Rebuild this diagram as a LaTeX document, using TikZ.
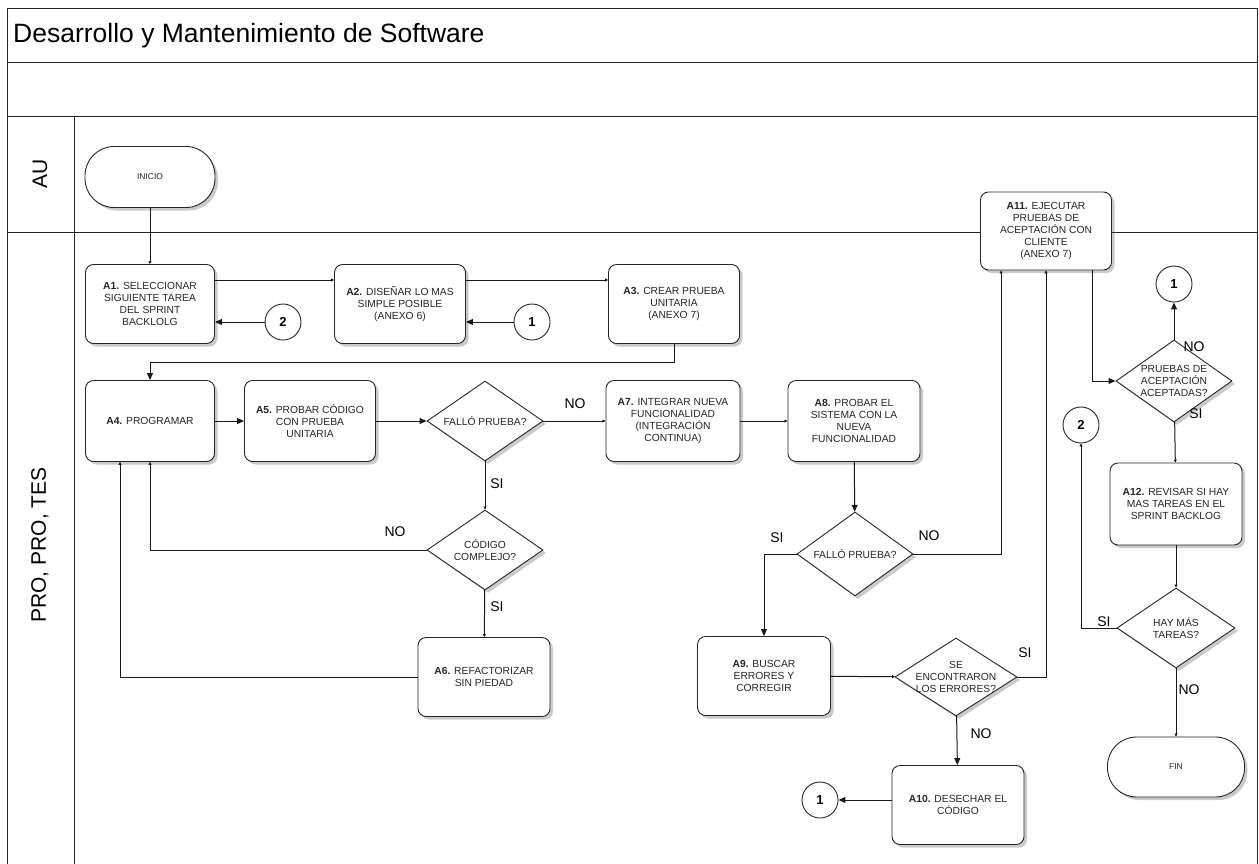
\documentclass[tikz,border=0pt]{standalone}
\usepackage{fontspec}
\setmainfont{Liberation Sans}
\usetikzlibrary{shapes.geometric,shadows,arrows.meta}

\newcommand\boxfont{\fontsize{10.3}{12}\selectfont}
\newcommand\termfont{\fontsize{8.5}{9}\selectfont}

\begin{document}
\begin{tikzpicture}[x=1pt,y=-1pt,
  frame/.style={line width=1pt, draw=black!85},
  shade/.style={drop shadow={shadow xshift=3pt, shadow yshift=-3pt, opacity=0.35, fill=black!60}},
  box/.style={draw=black!85, line width=0.9pt, rounded corners=8pt, fill=white, align=center,
    font=\boxfont, text=black!85, inner sep=2pt, minimum width=131pt, minimum height=79pt, shade},
  term/.style={draw=black!85, line width=0.9pt, rounded corners=29pt, fill=white,
    minimum width=130pt, minimum height=61pt, font=\termfont, text=black!85, shade},
  diam/.style={diamond, draw=black!85, line width=0.9pt, fill=white, inner sep=0pt, shade},
  dtext/.style={align=center, font=\boxfont, text=black!85, inner sep=0pt},
  conn/.style={circle, draw=black!85, line width=0.9pt, fill=white, minimum size=36pt,
    inner sep=0pt, font=\fontsize{13}{14}\selectfont\bfseries},
  link/.style={line width=1pt, draw=black!90},
  big/.style={link, -{Triangle[length=7pt,width=6pt]}},
  small/.style={link, -{Triangle[length=3pt,width=3pt]}},
  lbl/.style={font=\fontsize{14}{16}\selectfont, inner sep=0pt}]

\useasboundingbox (0,0) rectangle (1259,863);

% pool frame and lanes
\draw[frame] (7,866) -- (7,8) -- (1257,8) -- (1257,866);
\draw[frame] (7,62) -- (1257,62);
\draw[frame] (7,116) -- (1257,116);
\draw[frame] (7,232) -- (1257,232);
\draw[frame] (74,116) -- (74,866);

\node[anchor=west, font=\fontsize{26.5}{30}\selectfont, inner sep=0pt] (title) at (13,36)
  {Desarrollo y Mantenimiento de Software};
\node[rotate=90, font=\fontsize{21}{24}\selectfont] (laneau) at (40,174) {AU};
\node[rotate=90, font=\fontsize{21}{24}\selectfont] (lanepro) at (40,545) {PRO, PRO, TES};

% activities
\node[term] (inicio) at (150,177) {INICIO};
\node[box, minimum width=129pt] (a1) at (150,304) {\textbf{A1.} SELECCIONAR\\SIGUIENTE TAREA\\DEL SPRINT\\BACKLOLG};
\node[conn] (c2a) at (283,322) {2};
\node[box] (a2) at (400,304) {\textbf{A2.} DISEÑAR LO MAS\\SIMPLE POSIBLE\\(ANEXO 6)};
\node[conn] (c1a) at (532,322) {1};
\node[box] (a3) at (674,304) {\textbf{A3.} CREAR PRUEBA\\UNITARIA\\(ANEXO 7)};

\node[box, minimum width=129pt, minimum height=81pt] (a4) at (150,421) {\textbf{A4.} PROGRAMAR};
\node[box, minimum height=81pt] (a5) at (310,421) {\textbf{A5.} PROBAR CÓDIGO\\CON PRUEBA\\UNITARIA};
\node[diam, minimum width=116pt, minimum height=80pt] (d1) at (485,421) {};
\node[dtext] (d1t) at (d1) {FALLÓ PRUEBA?};
\node[box, minimum width=134pt, minimum height=81pt] (a7) at (673,421) {\textbf{A7.} INTEGRAR NUEVA\\FUNCIONALIDAD\\(INTEGRACIÓN\\CONTINUA)};
\node[box, minimum width=132pt, minimum height=81pt] (a8) at (854,421) {\textbf{A8.} PROBAR EL\\SISTEMA CON LA\\NUEVA\\FUNCIONALIDAD};

\node[diam, minimum width=116pt, minimum height=80pt] (d2) at (485,550) {};
\node[dtext] (d2t) at (d2) {CÓDIGO\\COMPLEJO?};
\node[box, minimum width=132pt] (a6) at (484,677) {\textbf{A6.} REFACTORIZAR\\SIN PIEDAD};

\node[diam, minimum width=116pt, minimum height=84pt] (d3) at (855,554) {};
\node[dtext] (d3t) at (d3) {FALLÓ PRUEBA?};
\node[box, minimum width=133pt] (a9) at (764,676) {\textbf{A9.} BUSCAR\\ERRORES Y\\CORREGIR};
\node[diam, minimum width=122pt, minimum height=78pt] (d4) at (956,677) {};
\node[dtext] (d4t) at (d4) {SE\\ENCONTRARON\\LOS ERRORES?};
\node[box, minimum width=132pt] (a10) at (958,805) {\textbf{A10.} DESECHAR EL\\CÓDIGO};
\node[conn] (c1b) at (820,800) {1};

\node[box, minimum width=131pt, minimum height=78pt] (a11) at (1046,231) {\textbf{A11.} EJECUTAR\\PRUEBAS DE\\ACEPTACIÓN CON\\CLIENTE\\(ANEXO 7)};
\node[conn] (c1c) at (1174,284) {1};
\node[diam, minimum width=116pt, minimum height=82pt] (d5) at (1174,381) {};
\node[dtext] (d5t) at (d5) {PRUEBAS DE\\ACEPTACIÓN\\ACEPTADAS?};
\node[conn] (c2b) at (1081,425) {2};
\node[box, minimum width=132pt, minimum height=82pt] (a12) at (1176,504) {\textbf{A12.} REVISAR SI HAY\\MAS TAREAS EN EL\\SPRINT BACKLOG};
\node[diam, minimum width=118pt, minimum height=80pt] (d6) at (1176,628) {};
\node[dtext] (d6t) at (d6) {HAY MÁS\\TAREAS?};
\node[term, minimum width=137pt, minimum height=60pt] (fin) at (1176,767) {FIN};

% flow
\draw[small] (inicio.south) -- (a1.north);
\draw[small] (a1.east |- 0,280) -- (a2.west |- 0,280);
\draw[big] (c2a) -- (a1.east |- c2a);
\draw[small] (a2.east |- 0,280) -- (a3.west |- 0,280);
\draw[big] (c1a) -- (a2.east |- c1a);
\draw[big] (a3.south) -- ++(0,19) -| (a4.north);
\draw[big] (a4) -- (a5);
\draw[big] (a5) -- (d1);
\draw[small] (d1) -- (a7);
\draw[small] (a7) -- (a8);
\draw[small] (d1) -- (d2);
\draw[small] (d2.west) -| (a4.south);
\draw[small] (d2) -- (a6);
\draw[small] (a6.west) -| ([xshift=-30pt]a4.south);
\draw[big] (a8) -- (d3);
\draw[big] (d3.west) -| (a9.north);
\draw[small] (d3.east) -| ([xshift=-45pt]a11.south);
\draw[small] (a9) -- (d4);
\draw[small] (d4.east) -| (a11.south);
\draw[big] (d4) -- (a10);
\draw[big] (a10.west |- c1b) -- (c1b);
\draw[big] ([xshift=46pt]a11.south) |- (d5.west);
\draw[big] (d5.north) -- (c1c);
\draw[small] (d5) -- (a12);
\draw[small] (a12) -- (d6);
\draw[small] (d6.west) -| (c2b.south);
\draw[small] (d6) -- (fin);

% branch labels
\node[lbl] (no1) at (575,404) {NO};
\node[lbl] (si1) at (497,484) {SI};
\node[lbl] (no2) at (395,532) {NO};
\node[lbl] (si2) at (497,607) {SI};
\node[lbl] (si3) at (777,538) {SI};
\node[lbl] (no3) at (929,536) {NO};
\node[lbl] (si4) at (1025,653) {SI};
\node[lbl] (no4) at (981,734) {NO};
\node[lbl] (no5) at (1194,347) {NO};
\node[lbl] (si5) at (1196,414) {SI};
\node[lbl] (si6) at (1104,622) {SI};
\node[lbl] (no6) at (1189,690) {NO};
\end{tikzpicture}
\end{document}
